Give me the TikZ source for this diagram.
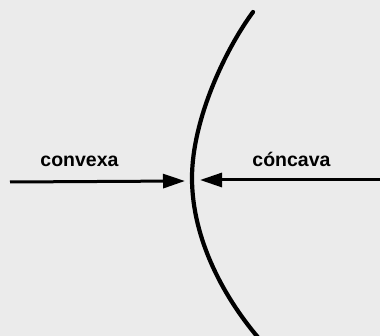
\documentclass[tikz,border=0pt]{standalone}
\usepackage{fontspec}
\setmainfont{Liberation Sans}
\usetikzlibrary{arrows.meta}
\begin{document}
\begin{tikzpicture}[x=1pt,y=-1pt,
  lbl/.style={font=\fontsize{19.5}{23}\selectfont\bfseries, inner sep=0pt, anchor=base},
  push/.style={line width=3pt, -{Triangle[length=22pt,width=14pt]}}]
\useasboundingbox (0,0) rectangle (380,336);
\clip (0,0) rectangle (380,336);
\fill[black!8] (0,0) rectangle (380,336);
\draw[line width=4.2pt, line cap=round] (253,12) .. controls (225,50) and (192,120) .. (192,178)
  .. controls (192,240) and (225,300) .. (262,342);
\coordinate (ls) at (10,182);
\coordinate (lt) at (185,181);
\coordinate (rs) at (382,180);
\coordinate (rt) at (200,180);
\draw[push] (ls) -- (lt);
\draw[push] (rs) -- (rt);
\node[lbl] (convexa) at (79.5,167) {convexa};
\node[lbl] (concava) at (291.5,167) {cóncava};
\end{tikzpicture}
\end{document}
